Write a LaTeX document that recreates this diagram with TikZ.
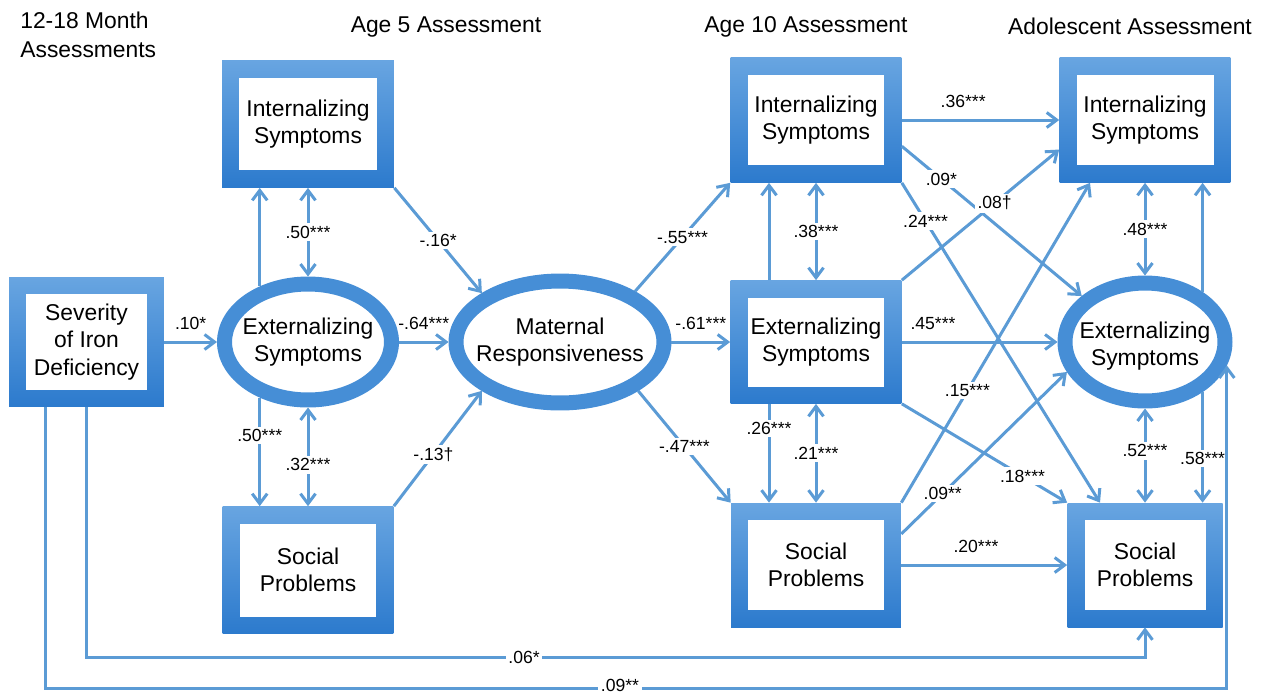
\documentclass[tikz,border=0pt]{standalone}
\usepackage{fontspec}
\setmainfont{Liberation Sans}
\usetikzlibrary{arrows.meta, shapes.geometric, calc}
\definecolor{linkblue}{RGB}{91,155,213}
\definecolor{boxtop}{RGB}{104,165,225}
\definecolor{boxbot}{RGB}{44,122,205}
\definecolor{ovalblue}{RGB}{70,142,214}

\begin{document}
\begin{tikzpicture}[x=0.02cm, y=-0.02cm,
	box/.style = {top color=boxtop, bottom color=boxbot, minimum width=3.42cm, minimum height=2.5cm, inner sep=0pt, align=center, font=\fontsize{13}{15.5}\selectfont,
		path picture={\fill[white] ([shift={(0.34cm,0.34cm)}]path picture bounding box.south west) rectangle ([shift={(-0.34cm,-0.34cm)}]path picture bounding box.north east);}},
	oval/.style = {ellipse, draw=ovalblue, line width=0.3cm, fill=white, inner sep=0pt},
	otext/.style = {inner sep=0pt, align=center, font=\fontsize{13}{15.5}\selectfont},
	head/.style = {inner sep=0pt, font=\fontsize{13}{16.5}\selectfont},
	arr/.style = {draw=linkblue, line width=0.06cm, -{Straight Barb[length=0.2cm, width=0.3cm]}},
	dbl/.style = {arr, {Straight Barb[length=0.2cm, width=0.3cm]}-{Straight Barb[length=0.2cm, width=0.3cm]}},
	lbl/.style = {fill=white, inner sep=1.5pt, font=\fontsize{10}{12}\selectfont},
	tag/.style = {above=5pt, inner sep=1pt, font=\fontsize{10}{12}\selectfont}]
	
	\useasboundingbox (0,0) rectangle (1271,694);
	
	\node[head, anchor=north west, align=left] (h1) at (20,12) {12-18 Month\\Assessments};
	\node[head, anchor=base] (h2) at (446,32) {Age 5 Assessment};
	\node[head, anchor=base] (h3) at (806,32) {Age 10 Assessment};
	\node[head, anchor=base] (h4) at (1130,34) {Adolescent Assessment};
	
	\node[box, minimum width=3.1cm, minimum height=2.6cm] (sev) at (86.5,342) {Severity\\of Iron\\Deficiency};
	
	\node[box, minimum width=3.44cm, minimum height=2.54cm] (int5) at (308,124) {Internalizing\\Symptoms};
	\node[oval, minimum width=3.34cm, minimum height=2.32cm] (ext5) at (308,342) {};
	\node[otext] (ext5t) at (ext5) {Externalizing\\Symptoms};
	\node[box, minimum height=2.54cm] (soc5) at (308,570) {Social\\Problems};
	
	\node[oval, minimum width=4.16cm, minimum height=2.44cm] (mat) at (560,342) {};
	\node[otext] (matt) at (mat) {Maternal\\Responsiveness};
	
	\node[box] (int10) at (816,120) {Internalizing\\Symptoms};
	\node[box, minimum height=2.46cm] (ext10) at (816,342) {Externalizing\\Symptoms};
	\node[box, minimum width=3.4cm, minimum height=2.48cm] (soc10) at (816,565) {Social\\Problems};
	
	\node[box] (intA) at (1145,120) {Internalizing\\Symptoms};
	\node[oval, minimum width=3.2cm, minimum height=2.36cm] (extA) at (1145,342) {};
	\node[otext] (extAt) at (1145,346) {Externalizing\\Symptoms};
	\node[box, minimum width=3.1cm, minimum height=2.48cm] (socA) at (1145,565) {Social\\Problems};
	
	\coordinate (lowA) at (524,657);
	\coordinate (lowB) at (620,688);
	
	\draw[arr] (sev) -- node[tag] {.10*} (ext5);
	\draw[arr] (ext5.131) -- (ext5.131 |- int5.south);
	\draw[arr] (ext5.229) -- node[lbl, pos=0.35] {.50***} (ext5.229 |- soc5.north);
	\draw[dbl] (ext5) -- node[lbl] {.50***} (int5);
	\draw[dbl] (ext5) -- node[lbl, pos=0.58] {.32***} (soc5);
	\draw[arr] (int5.south east) -- node[lbl] {-.16*} (mat.148);
	\draw[arr] (soc5.north east) -- node[lbl, pos=0.45] {-.13†} (mat.212);
	\draw[arr] (ext5) -- node[tag] {-.64***} (mat);
	
	\draw[arr] (mat.34) -- node[lbl] {-.55***} (int10.south west);
	\draw[arr] (mat) -- node[tag] {-.61***} (ext10);
	\draw[arr] (mat.-32) -- node[lbl] {-.47***} (soc10.north west);
	
	\draw[arr] ($(ext10.north)+(-47,0)$) -- ($(int10.south)+(-47,0)$);
	\draw[arr] ($(ext10.south)+(-47,0)$) -- node[lbl, pos=0.25] {.26***} ($(soc10.north)+(-47,0)$);
	\draw[dbl] (ext10) -- node[lbl] {.38***} (int10);
	\draw[dbl] (ext10) -- node[lbl] {.21***} (soc10);
	
	\draw[arr] (int10) -- node[tag, pos=0.39] {.36***} (intA);
	\draw[arr] (int10.-17.5) -- node[lbl, pos=0.22] {.09*} (extA.144);
	\draw[arr] (int10.south east) -- node[lbl, pos=0.12] {.24***} ($(socA.north)+(-45,0)$);
	\draw[arr] (ext10.north east) -- node[lbl, pos=0.59] {.08†} (intA.199);
	\draw[arr] (ext10) -- node[tag, pos=0.2] {.45***} (extA);
	\draw[arr] (ext10.south east) -- node[lbl, pos=0.73] {.18***} (socA.north west);
	\draw[arr] (soc10.north east) -- node[lbl, pos=0.35] {.15***} ($(intA.south)+(-55,0)$);
	\draw[arr] (soc10.20.5) -- node[lbl, pos=0.25] {.09**} (extA.201);
	\draw[arr] (soc10) -- node[tag, pos=0.45] {.20***} (socA);
	
	\draw[arr] (extA.41) -- (extA.41 |- intA.south);
	\draw[dbl] (extA) -- node[lbl] {.48***} (intA);
	\draw[dbl] (extA) -- node[lbl, pos=0.45] {.52***} (socA);
	\draw[arr] (extA.-41) -- node[lbl, pos=0.6] {.58***} (extA.-41 |- socA.north);
	
	\draw[arr] (sev.south) |- (lowA) node[lbl] {.06*} -| (socA.south);
	\draw[arr] ($(sev.south)+(-41,0)$) |- (lowB) node[lbl, yshift=1.5pt] {.09**} -| (extA.-16);
	
\end{tikzpicture}
\end{document}
